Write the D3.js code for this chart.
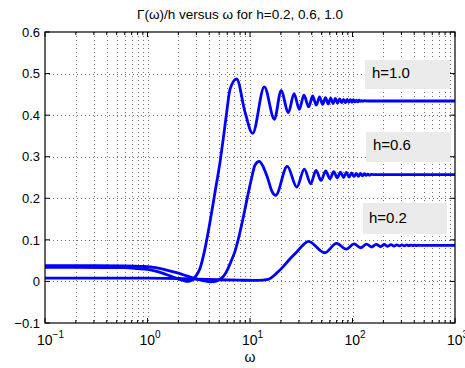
<!DOCTYPE html>
<html>
<head>
<meta charset="utf-8">
<script src="https://cdn.jsdelivr.net/npm/d3@7"></script>
<style>
  body { margin: 0; background: #fff; }
  text { font-family: "Liberation Sans", Arial, sans-serif; fill: #000; }
</style>
</head>
<body>
<div id="chart"></div>
<script>
// Gamma(w)/h curves as [omega, value]
const curveH10 = [
  [0.1, 0.034], [0.2, 0.034], [0.4, 0.0335], [0.6, 0.033], [0.8, 0.031], [1.0, 0.029],
  [1.2, 0.025], [1.4, 0.020], [1.6, 0.015], [1.9, 0.008], [2.2, 0.003], [2.45, 0.0],
  [2.7, 0.003], [2.9, 0.010], [3.25, 0.031], [3.64, 0.079], [4.07, 0.143], [4.56, 0.215],
  [5.1, 0.287], [5.49, 0.344], [5.93, 0.408], [6.38, 0.462], [7.41, 0.487], [8.93, 0.408],
  [10.6, 0.356], [13.8, 0.468], [17.3, 0.390], [20.1, 0.459], [23.7, 0.406], [26.9, 0.452],
  [30.3, 0.414], [33.6, 0.448], [37.4, 0.420], [40.9, 0.446], [44.3, 0.424], [47.7, 0.444],
  [51.1, 0.426], [54.5, 0.442], [57.9, 0.427], [61.3, 0.441], [64.7, 0.428], [68.1, 0.440],
  [71.5, 0.429], [74.9, 0.439], [78.3, 0.430], [81.7, 0.438], [85.1, 0.430], [88.5, 0.438],
  [91.9, 0.431], [95.3, 0.437], [98.7, 0.431], [102.1, 0.437], [105.5, 0.432], [108.9, 0.436],
  [112.3, 0.432], [115.7, 0.436], [119.1, 0.433], [122.5, 0.435], [126, 0.433], [130, 0.435],
  [140, 0.434], [300, 0.434], [1000, 0.434]
];

const curveH06 = [
  [0.1, 0.038], [0.3, 0.038], [0.6, 0.0375], [0.9, 0.036], [1.2, 0.033], [1.5, 0.028],
  [2.0, 0.020], [2.5, 0.012], [3.0, 0.006], [3.5, 0.002], [4.1, -0.001], [4.6, 0.0],
  [5.0, 0.004], [5.5, 0.012], [6.1, 0.031], [6.6, 0.051], [7.15, 0.073], [7.7, 0.102],
  [8.3, 0.137], [8.9, 0.172], [9.5, 0.206], [10.4, 0.250], [11.2, 0.280], [12.3, 0.289],
  [13.5, 0.275], [14.8, 0.250], [16.5, 0.215], [17.8, 0.207], [23.1, 0.277], [28.6, 0.227],
  [33.9, 0.270], [39.1, 0.235], [44.0, 0.267], [49.4, 0.243], [54.8, 0.266], [60.2, 0.247],
  [65.6, 0.264], [71.0, 0.249], [76.4, 0.263], [81.8, 0.250], [87.2, 0.262], [92.6, 0.251],
  [98.0, 0.261], [103.4, 0.252], [108.8, 0.260], [114.2, 0.253], [119.6, 0.260], [125.0, 0.254],
  [130.4, 0.259], [135.8, 0.255], [141.2, 0.258], [146.6, 0.2555], [152, 0.2575], [160, 0.257],
  [1000, 0.257]
];

const curveH02 = [
  [0.1, 0.008], [0.5, 0.008], [1, 0.0078], [2, 0.007], [3, 0.0055], [5, 0.004], [8, 0.003],
  [12, 0.0025], [15, 0.005], [18.2, 0.020], [21, 0.035], [24.5, 0.054], [28.6, 0.071],
  [33.1, 0.088], [37.1, 0.0965], [53.5, 0.069], [70, 0.0915], [87, 0.0775], [103.5, 0.0905],
  [120, 0.081], [137, 0.0898], [153.5, 0.0828], [170.5, 0.0893], [187, 0.0838], [204, 0.0888],
  [220.5, 0.0845], [237.5, 0.0884], [254, 0.0850], [271, 0.0881], [287.5, 0.0854], [304.5, 0.0879],
  [321, 0.0857], [338, 0.0877], [354.5, 0.0859], [371.5, 0.0875], [388, 0.0861], [405, 0.0873],
  [421.5, 0.0863], [438.5, 0.0871], [470, 0.0867], [1000, 0.0867]
];

const seriesLabels = ["h=1.0", "h=0.6", "h=0.2"];
const yTicks = [-0.1, 0, 0.1, 0.2, 0.3, 0.4, 0.5, 0.6];
const xExponents = [-1, 0, 1, 2, 3];
const titleText = "\u0393(\u03c9)/h versus \u03c9 for h=0.2, 0.6, 1.0";
const xLabelText = "\u03c9";

const W = 465, H = 368;
const margin = { left: 45, right: 10, top: 32, bottom: 45 };

const svg = d3.select("#chart").append("svg")
  .attr("width", W).attr("height", H);

const x = d3.scaleLog().domain([0.1, 1000]).range([margin.left, W - margin.right]);
const y = d3.scaleLinear().domain([-0.1, 0.6]).range([H - margin.bottom, margin.top]);

const x0 = x.range()[0], x1 = x.range()[1], y0 = y.range()[0], y1 = y.range()[1];

// minor + major positions for the log grid
var logTicks = [];
xExponents.forEach(function (e) {
  for (var m = 1; m <= 9; m++) {
    var v = m * Math.pow(10, e);
    if (v <= 1000 + 1e-9) logTicks.push(v);
  }
});

const grid = svg.append("g").attr("class", "grid");
grid.selectAll("line.vx")
  .data(logTicks.filter(v => v > 0.1 && v < 1000))
  .enter().append("line")
  .attr("x1", d => Math.round(x(d)) + 0.5).attr("x2", d => Math.round(x(d)) + 0.5)
  .attr("y1", y1).attr("y2", y0)
  .attr("stroke", "#000").attr("stroke-opacity", 0.55)
  .attr("stroke-dasharray", "1,3");

grid.selectAll("line.hy")
  .data(yTicks.filter(v => v > -0.1 && v < 0.6))
  .enter().append("line")
  .attr("x1", x0).attr("x2", x1)
  .attr("y1", d => Math.round(y(d)) + 0.5).attr("y2", d => Math.round(y(d)) + 0.5)
  .attr("stroke", "#000").attr("stroke-opacity", 0.55)
  .attr("stroke-dasharray", "1,3");

// label boxes
const boxes = [
  { x: 365, y: 60, w: 85, h: 29, tx: 372, ty: 78 },
  { x: 366, y: 132, w: 85, h: 30, tx: 373, ty: 150 },
  { x: 363, y: 203, w: 84, h: 31, tx: 369, ty: 223 }
];
const lab = svg.append("g").selectAll("g").data(seriesLabels).enter().append("g");
lab.append("rect")
  .attr("x", (d, i) => boxes[i].x).attr("y", (d, i) => boxes[i].y)
  .attr("width", (d, i) => boxes[i].w).attr("height", (d, i) => boxes[i].h)
  .attr("fill", "#ebebeb");
lab.append("text")
  .attr("x", (d, i) => boxes[i].tx).attr("y", (d, i) => boxes[i].ty)
  .attr("font-size", 15)
  .text(d => d);

// curves
const line = d3.line()
  .x(d => x(d[0])).y(d => y(d[1]))
  .curve(d3.curveMonotoneX);

svg.append("g").selectAll("path")
  .data([curveH02, curveH06, curveH10])
  .enter().append("path")
  .attr("d", line)
  .attr("fill", "none")
  .attr("stroke", "#0000ff")
  .attr("stroke-width", 2.8)
  .attr("stroke-linejoin", "round");

// frame
svg.append("rect")
  .attr("x", x0).attr("y", y1)
  .attr("width", x1 - x0).attr("height", y0 - y1)
  .attr("fill", "none").attr("stroke", "#000").attr("stroke-width", 1.2);

// inward ticks
const ticks = svg.append("g").attr("stroke", "#000").attr("stroke-width", 1);
logTicks.forEach(function (v) {
  var major = Math.abs(Math.log10(v) - Math.round(Math.log10(v))) < 1e-9;
  var len = major ? 5 : 3;
  var px = x(v);
  ticks.append("line").attr("x1", px).attr("x2", px).attr("y1", y0).attr("y2", y0 - len);
  ticks.append("line").attr("x1", px).attr("x2", px).attr("y1", y1).attr("y2", y1 + len);
});
yTicks.forEach(function (v) {
  var py = y(v);
  ticks.append("line").attr("x1", x0).attr("x2", x0 + 5).attr("y1", py).attr("y2", py);
  ticks.append("line").attr("x1", x1).attr("x2", x1 - 5).attr("y1", py).attr("y2", py);
});

// y tick labels
svg.append("g").selectAll("text")
  .data(yTicks).enter().append("text")
  .attr("x", x0 - 5).attr("y", d => y(d))
  .attr("dy", "0.36em")
  .attr("text-anchor", "end")
  .attr("font-size", 13)
  .text(d => d3.format(".1f")(d).replace("-", "\u2212").replace(/^0\.0$/, "0"));

// x tick labels: 10 with superscript (last one sits at the window edge as in the reference)
const xl = svg.append("g").selectAll("text")
  .data(xExponents).enter().append("text")
  .attr("x", d => x(Math.pow(10, d)) - 8)
  .attr("y", y0 + 22)
  .attr("font-size", 14);
xl.append("tspan").text("10");
xl.append("tspan")
  .attr("dy", -7)
  .attr("font-size", 10)
  .text(d => String(d).replace("-", "\u2212"));

svg.append("text")
  .attr("x", (x0 + x1) / 2).attr("y", H - 6)
  .attr("text-anchor", "middle")
  .attr("font-size", 14)
  .text(xLabelText);

svg.append("text")
  .attr("x", 240).attr("y", 19)
  .attr("text-anchor", "middle")
  .attr("font-size", 13.5)
  .text(titleText);
</script>
</body>
</html>
